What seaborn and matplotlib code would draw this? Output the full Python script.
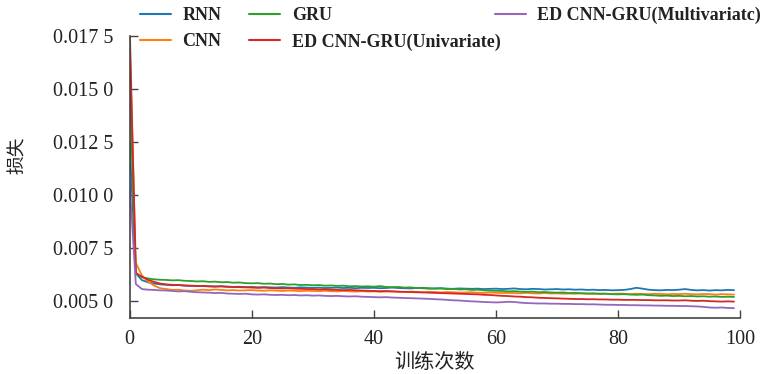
import numpy as np
import pandas as pd
import matplotlib
matplotlib.use("Agg")
import matplotlib.pyplot as plt
from matplotlib.ticker import FuncFormatter
import seaborn as sns

epochs = list(range(100))

rnn = [0.01250, 0.00630, 0.00598, 0.00588, 0.00582, 0.00578, 0.00576, 0.00574, 0.00575, 0.00572,
       0.00571, 0.00570, 0.00571, 0.00569, 0.00568, 0.00569, 0.00567, 0.00566, 0.00567, 0.00565,
       0.00566, 0.00564, 0.00565, 0.00564, 0.00563, 0.00565, 0.00563, 0.00562, 0.00564, 0.00563,
       0.00562, 0.00563, 0.00561, 0.00562, 0.00563, 0.00561, 0.00562, 0.00560, 0.00562, 0.00561,
       0.00562, 0.00560, 0.00561, 0.00563, 0.00561, 0.00560, 0.00559, 0.00561, 0.00560, 0.00558,
       0.00559, 0.00560, 0.00558, 0.00557, 0.00559, 0.00558, 0.00557, 0.00558, 0.00556, 0.00557,
       0.00558, 0.00556, 0.00557, 0.00559, 0.00556, 0.00555, 0.00557, 0.00556, 0.00554, 0.00555,
       0.00556, 0.00554, 0.00555, 0.00553, 0.00554, 0.00552, 0.00553, 0.00551, 0.00552, 0.00550,
       0.00551, 0.00552, 0.00556, 0.00562, 0.00558, 0.00553, 0.00551, 0.00550, 0.00552, 0.00551,
       0.00553, 0.00556, 0.00552, 0.00550, 0.00551, 0.00549, 0.00551, 0.00550, 0.00552, 0.00551]

cnn = [0.01720, 0.00680, 0.00620, 0.00592, 0.00572, 0.00560, 0.00556, 0.00552, 0.00553, 0.00549,
       0.00548, 0.00550, 0.00553, 0.00551, 0.00554, 0.00552, 0.00550, 0.00551, 0.00549, 0.00550,
       0.00551, 0.00549, 0.00548, 0.00550, 0.00549, 0.00547, 0.00549, 0.00548, 0.00546, 0.00548,
       0.00547, 0.00546, 0.00548, 0.00546, 0.00545, 0.00547, 0.00545, 0.00544, 0.00546, 0.00544,
       0.00545, 0.00543, 0.00544, 0.00545, 0.00543, 0.00542, 0.00544, 0.00543, 0.00541, 0.00543,
       0.00542, 0.00540, 0.00542, 0.00541, 0.00539, 0.00540, 0.00541, 0.00539, 0.00538, 0.00540,
       0.00539, 0.00537, 0.00538, 0.00537, 0.00536, 0.00538, 0.00536, 0.00535, 0.00537, 0.00535,
       0.00536, 0.00534, 0.00535, 0.00534, 0.00536, 0.00534, 0.00533, 0.00535, 0.00534, 0.00533,
       0.00535, 0.00534, 0.00532, 0.00534, 0.00533, 0.00532, 0.00534, 0.00533, 0.00531, 0.00533,
       0.00532, 0.00534, 0.00532, 0.00531, 0.00533, 0.00532, 0.00530, 0.00532, 0.00531, 0.00530]

gru = [0.01520, 0.00630, 0.00612, 0.00606, 0.00602, 0.00600, 0.00599, 0.00597, 0.00598, 0.00595,
       0.00594, 0.00592, 0.00593, 0.00590, 0.00591, 0.00588, 0.00589, 0.00586, 0.00587, 0.00584,
       0.00583, 0.00584, 0.00581, 0.00582, 0.00579, 0.00580, 0.00577, 0.00578, 0.00575, 0.00576,
       0.00574, 0.00575, 0.00572, 0.00573, 0.00571, 0.00572, 0.00569, 0.00570, 0.00568, 0.00569,
       0.00567, 0.00570, 0.00566, 0.00565, 0.00566, 0.00563, 0.00564, 0.00561, 0.00562, 0.00560,
       0.00558, 0.00559, 0.00556, 0.00557, 0.00554, 0.00555, 0.00552, 0.00553, 0.00550, 0.00549,
       0.00548, 0.00547, 0.00545, 0.00546, 0.00544, 0.00543, 0.00544, 0.00541, 0.00542, 0.00540,
       0.00539, 0.00540, 0.00537, 0.00538, 0.00536, 0.00535, 0.00536, 0.00533, 0.00534, 0.00532,
       0.00531, 0.00532, 0.00530, 0.00529, 0.00530, 0.00527, 0.00526, 0.00524, 0.00525, 0.00523,
       0.00524, 0.00522, 0.00523, 0.00521, 0.00522, 0.00520, 0.00521, 0.00519, 0.00520, 0.00519]

ed_uni = [0.01800, 0.00632, 0.00614, 0.00600, 0.00590, 0.00582, 0.00578, 0.00576, 0.00575, 0.00573,
          0.00572, 0.00571, 0.00570, 0.00569, 0.00568, 0.00569, 0.00567, 0.00566, 0.00565, 0.00564,
          0.00563, 0.00562, 0.00563, 0.00561, 0.00560, 0.00559, 0.00560, 0.00558, 0.00557, 0.00556,
          0.00556, 0.00554, 0.00555, 0.00553, 0.00552, 0.00551, 0.00552, 0.00550, 0.00549, 0.00548,
          0.00547, 0.00546, 0.00547, 0.00545, 0.00544, 0.00543, 0.00542, 0.00541, 0.00540, 0.00539,
          0.00538, 0.00537, 0.00536, 0.00535, 0.00534, 0.00533, 0.00532, 0.00531, 0.00529, 0.00528,
          0.00526, 0.00524, 0.00523, 0.00521, 0.00520, 0.00518, 0.00517, 0.00515, 0.00514, 0.00513,
          0.00512, 0.00511, 0.00510, 0.00509, 0.00509, 0.00508, 0.00508, 0.00507, 0.00507, 0.00506,
          0.00506, 0.00505, 0.00505, 0.00505, 0.00504, 0.00504, 0.00503, 0.00503, 0.00503, 0.00502,
          0.00502, 0.00503, 0.00501, 0.00500, 0.00501, 0.00499, 0.00498, 0.00497, 0.00498, 0.00497]

ed_multi = [0.01050, 0.00580, 0.00556, 0.00553, 0.00552, 0.00550, 0.00549, 0.00547, 0.00545, 0.00546,
            0.00543, 0.00541, 0.00540, 0.00539, 0.00537, 0.00538, 0.00535, 0.00534, 0.00533, 0.00534,
            0.00531, 0.00530, 0.00531, 0.00529, 0.00528, 0.00529, 0.00527, 0.00528, 0.00526, 0.00527,
            0.00525, 0.00526, 0.00524, 0.00523, 0.00524, 0.00522, 0.00521, 0.00522, 0.00520, 0.00519,
            0.00518, 0.00517, 0.00518, 0.00516, 0.00515, 0.00514, 0.00513, 0.00512, 0.00511, 0.00510,
            0.00508, 0.00507, 0.00505, 0.00503, 0.00502, 0.00500, 0.00498, 0.00497, 0.00495, 0.00494,
            0.00493, 0.00494, 0.00496, 0.00495, 0.00492, 0.00490, 0.00489, 0.00488, 0.00488, 0.00487,
            0.00487, 0.00486, 0.00486, 0.00485, 0.00485, 0.00484, 0.00484, 0.00483, 0.00482, 0.00482,
            0.00481, 0.00481, 0.00480, 0.00480, 0.00479, 0.00479, 0.00478, 0.00478, 0.00477, 0.00477,
            0.00476, 0.00476, 0.00475, 0.00474, 0.00472, 0.00469, 0.00468, 0.00469, 0.00467, 0.00466]

labels = ["RNN", "CNN", "GRU", "ED CNN-GRU(Univariate)", "ED CNN-GRU(Multivariatc)"]
series = [rnn, cnn, gru, ed_uni, ed_multi]
colors = ["#1f77b4", "#ff7f0e", "#2ca02c", "#d62728", "#9467bd"]

x_ticks = [0, 20, 40, 60, 80, 100]
y_ticks = [0.0050, 0.0075, 0.0100, 0.0125, 0.0150, 0.0175]

df = pd.concat([pd.DataFrame({"epoch": epochs, "loss": s, "model": lab})
                for s, lab in zip(series, labels)], ignore_index=True)

sns.set_theme(style="ticks")
plt.rcParams["font.family"] = ["Liberation Serif", "Noto Sans CJK SC", "DejaVu Sans"]

fig = plt.figure(figsize=(7.63, 3.74), dpi=100)
ax = fig.add_axes([0.170, 0.150, 0.800, 0.754])

sns.lineplot(data=df, x="epoch", y="loss", hue="model", hue_order=labels,
             palette=colors, linewidth=1.3, ax=ax, legend=True)

ax.set_xlim(0, 100)
ax.set_ylim(0.0042, 0.0175)
ax.set_xticks(x_ticks)
ax.set_yticks(y_ticks)

def fmt(v, pos):
    s = f"{v:.4f}"
    return s[:5] + " " + s[5:]

ax.yaxis.set_major_formatter(FuncFormatter(fmt))
ax.tick_params(axis="both", direction="in", length=6, width=1.0, color="#444444",
               labelsize=14.5, labelcolor="#222222")
ax.tick_params(axis="y", pad=12)
ax.tick_params(axis="x", pad=9)
for sp in ["top", "right"]:
    ax.spines[sp].set_visible(False)
for sp in ["left", "bottom"]:
    ax.spines[sp].set_color("#444444")
    ax.spines[sp].set_linewidth(1.2)

ax.set_xlabel("训练次数", fontsize=14.5, family=["Noto Sans CJK SC"], labelpad=2, color="#222222")
ax.set_ylabel("损失", fontsize=13.5, family=["Noto Sans CJK SC"], color="#222222")
ax.yaxis.set_label_coords(-0.167, 0.578)

handles, labs = ax.get_legend_handles_labels()
ax.get_legend().remove()
prop = {"family": "Liberation Serif", "weight": "bold", "size": 13}
common = dict(frameon=False, prop=prop, handlelength=1.7, handletextpad=0.65,
              labelspacing=0.52, borderpad=0, borderaxespad=0,
              bbox_transform=fig.transFigure, loc="upper left")
leg1 = ax.legend(handles[:4], labs[:4], ncol=2, columnspacing=1.55,
                 bbox_to_anchor=(140 / 763, 1 - 7 / 374), **common)
ax.add_artist(leg1)
leg2 = ax.legend(handles[4:], labs[4:], ncol=1,
                 bbox_to_anchor=(495 / 763, 1 - 7 / 374), **common)
for lg in (leg1, leg2):
    for t in lg.get_texts():
        t.set_color("#222222")
    for l in lg.get_lines():
        l.set_linewidth(1.5)

fig.savefig("out.png", dpi=100)
